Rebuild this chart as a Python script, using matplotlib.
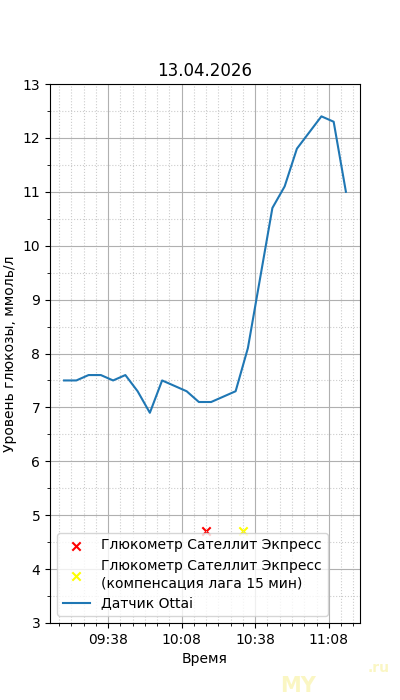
import matplotlib
matplotlib.use("Agg")
import matplotlib.pyplot as plt
import matplotlib.dates as mdates
from matplotlib.ticker import MultipleLocator
from datetime import datetime

DAY = "2026-04-13 "

# ── Data ──
sensor_times = ["09:20", "09:25", "09:30", "09:35", "09:40", "09:45", "09:50",
                "09:55", "10:00", "10:10", "10:15", "10:20", "10:30", "10:35",
                "10:40", "10:45", "10:50", "10:55", "11:05", "11:10", "11:15"]
sensor_values = [7.5, 7.5, 7.6, 7.6, 7.5, 7.6, 7.3, 6.9, 7.5, 7.3, 7.1,
                 7.1, 7.3, 8.1, 9.4, 10.7, 11.1, 11.8, 12.4, 12.3, 11.0]

meter_times = ["10:18"]
meter_values = [4.7]
meter_shift_times = ["10:33"]
meter_shift_values = [4.7]


def to_dt(items):
    return [datetime.strptime(DAY + t, "%Y-%m-%d %H:%M") for t in items]


fig, ax = plt.subplots(figsize=(4, 7), dpi=100)

ax.scatter(to_dt(meter_times), meter_values, marker="x", color="red",
           label="Глюкометр Сателлит Экпресс")
ax.scatter(to_dt(meter_shift_times), meter_shift_values, marker="x", color="yellow",
           label="Глюкометр Сателлит Экпресс\n(компенсация лага 15 мин)")
ax.plot(to_dt(sensor_times), sensor_values, color="#1f77b4", label="Датчик Ottai")

ax.set_ylim(3, 13)
ax.yaxis.set_major_locator(MultipleLocator(1))
ax.yaxis.set_minor_locator(MultipleLocator(0.5))

ax.xaxis.set_major_locator(mdates.MinuteLocator(byminute=[8, 38]))
ax.xaxis.set_minor_locator(mdates.MinuteLocator(byminute=range(3, 60, 5)))
ax.xaxis.set_major_formatter(mdates.DateFormatter("%H:%M"))

ax.grid(which="major", color="#b0b0b0", linewidth=0.8)
ax.grid(which="minor", color="#cccccc", linestyle=":", linewidth=0.8)

ax.set_title("13.04.2026")
ax.set_xlabel("Время")
ax.set_ylabel("Уровень глюкозы, ммоль/л")
ax.legend(loc="lower left")

# faint watermark
fig.text(0.70, 0.012, "MY", fontsize=15, fontweight="bold", color="#f6ec7a", alpha=0.45)
fig.text(0.92, 0.04, ".ru", fontsize=10, fontweight="bold", color="#f6ec7a", alpha=0.45)

fig.savefig("out.png", dpi=100)
